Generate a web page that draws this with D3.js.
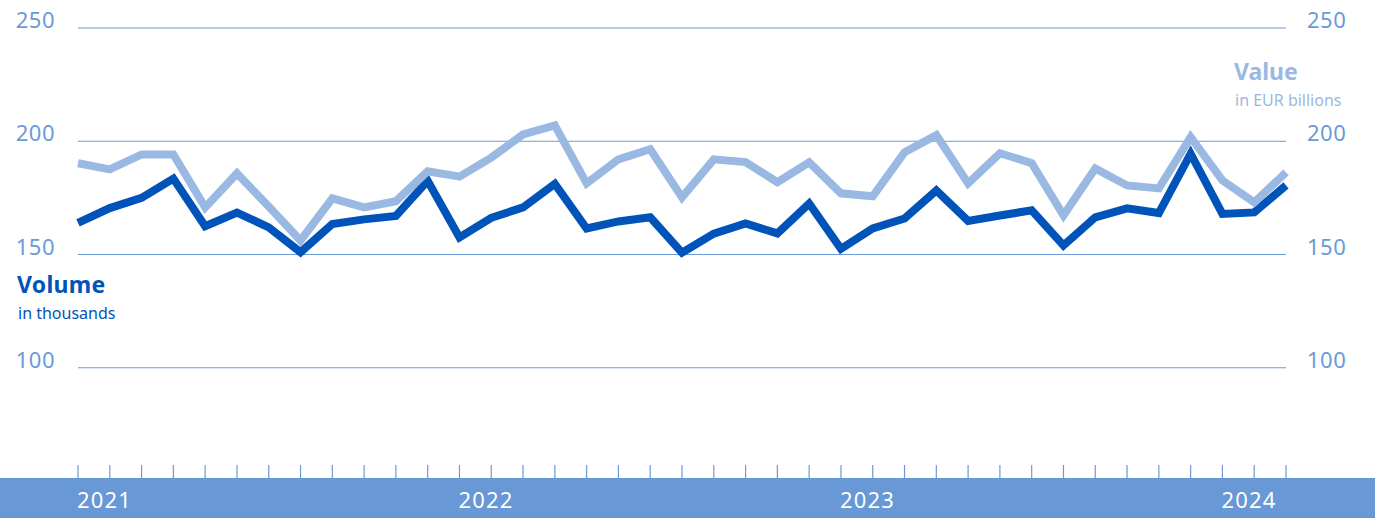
<!DOCTYPE html>
<html>
<head>
<meta charset="utf-8">
<script src="https://cdn.jsdelivr.net/npm/d3@7"></script>
<style>
  body { margin: 0; background: #fff; }
  svg { display: block; font-family: "Noto Sans", sans-serif; }
</style>
</head>
<body>
<div id="chart"></div>
<script>
var W = 1375, H = 518,
  left = 78, right = 1286,
  bandTop = 478,
  gridColor = "#6b9ad6",
  darkColor = "#0053b9",
  lightColor = "#9ab9e2";

// monthly, Jan 2021 .. Mar 2024
var months = d3.timeMonth.range(new Date(2021, 0, 1), new Date(2024, 3, 1));

var volume = [164, 170.5, 175, 183.5, 162.5, 168.5, 162, 151, 163.5, 165.5, 167, 182.5,
  157.5, 166.2, 170.8, 181.2, 161.5, 164.6, 166.4, 150.8, 159.2, 163.7, 159.3, 172.5,
  152.5, 161.5, 165.9, 178.3, 164.8, 167.2, 169.5, 154, 166.4, 170.4, 168.3, 194.5,
  167.9, 168.6, 180.5];
var value = [190.3, 187.6, 194.2, 194.2, 170.8, 185.8, 171.2, 156.2, 174.8, 170.8, 173.5, 186.7,
  184.4, 192.8, 203, 207, 181.4, 192, 196.5, 175.2, 192, 190.8, 181.9, 190.7,
  177, 175.7, 195.1, 202.7, 181.4, 194.7, 190.3, 167.3, 188, 180.5, 179.2, 201.8,
  182.7, 173, 186.3];
var yTicks = [100, 150, 200, 250];
var years = [2021, 2022, 2023, 2024];

var svg = d3.select("#chart").append("svg")
  .attr("width", W)
  .attr("height", H);

// months are evenly spaced in the original
var x = d3.scalePoint()
  .domain(months.map(function(d){ return +d; }))
  .range([left, right]);

var y = d3.scaleLinear()
  .domain([50, 250])
  .range([481, 28]);

// grid lines + labels on both sides
svg.selectAll(".grid")
  .data(yTicks).enter().append("line")
  .attr("x1", left).attr("x2", right)
  .attr("y1", function(d){ return y(d); })
  .attr("y2", function(d){ return y(d); })
  .attr("stroke", gridColor)
  .attr("stroke-width", 1.2);

svg.selectAll(".ylabL")
  .data(yTicks).enter().append("text")
  .attr("x", 55)
  .attr("y", function(d){ return y(d); })
  .attr("text-anchor", "end")
  .attr("fill", gridColor)
  .style("font-size", "22px")
  .style("letter-spacing", "0.5px")
  .text(function(d){ return d; });

svg.selectAll(".ylabR")
  .data(yTicks).enter().append("text")
  .attr("x", 1307)
  .attr("y", function(d){ return y(d); })
  .attr("fill", gridColor)
  .style("font-size", "22px")
  .style("letter-spacing", "0.5px")
  .text(function(d){ return d; });

// bottom band with month ticks
svg.append("rect")
  .attr("x", 0).attr("y", bandTop)
  .attr("width", W).attr("height", H - bandTop)
  .attr("fill", "#6898d6");

svg.selectAll(".mtick")
  .data(months).enter().append("line")
  .attr("x1", function(d){ return x(+d); })
  .attr("x2", function(d){ return x(+d); })
  .attr("y1", 465).attr("y2", bandTop)
  .attr("stroke", gridColor)
  .attr("stroke-width", 1.2);

svg.selectAll(".year")
  .data(years).enter().append("text")
  .attr("x", function(d){ return x(+new Date(d, 0, 1)) - 1; })
  .attr("y", 508)
  .attr("fill", "#fff")
  .style("font-size", "22px")
  .style("letter-spacing", "1.2px")
  .text(function(d){ return d; });

// lines
var line = d3.line()
  .x(function(d, i){ return x(+months[i]); })
  .y(function(d){ return y(d); });

svg.append("path")
  .datum(volume)
  .attr("d", line)
  .attr("fill", "none")
  .attr("stroke", darkColor)
  .attr("stroke-width", 8);

svg.append("path")
  .datum(value)
  .attr("d", line)
  .attr("fill", "none")
  .attr("stroke", lightColor)
  .attr("stroke-width", 8);

// series labels
svg.append("text")
  .attr("x", 17).attr("y", 293)
  .attr("fill", darkColor)
  .style("font-size", "23px")
  .style("font-weight", "bold")
  .style("letter-spacing", "0.3px")
  .text("Volume");
svg.append("text")
  .attr("x", 18).attr("y", 319)
  .attr("fill", darkColor)
  .style("font-size", "16px")
  .text("in thousands");

svg.append("text")
  .attr("x", 1234).attr("y", 80)
  .attr("fill", lightColor)
  .style("font-size", "23px")
  .style("font-weight", "bold")
  .text("Value");
svg.append("text")
  .attr("x", 1235).attr("y", 106)
  .attr("fill", lightColor)
  .style("font-size", "16px")
  .text("in EUR billions");
</script>
</body>
</html>
